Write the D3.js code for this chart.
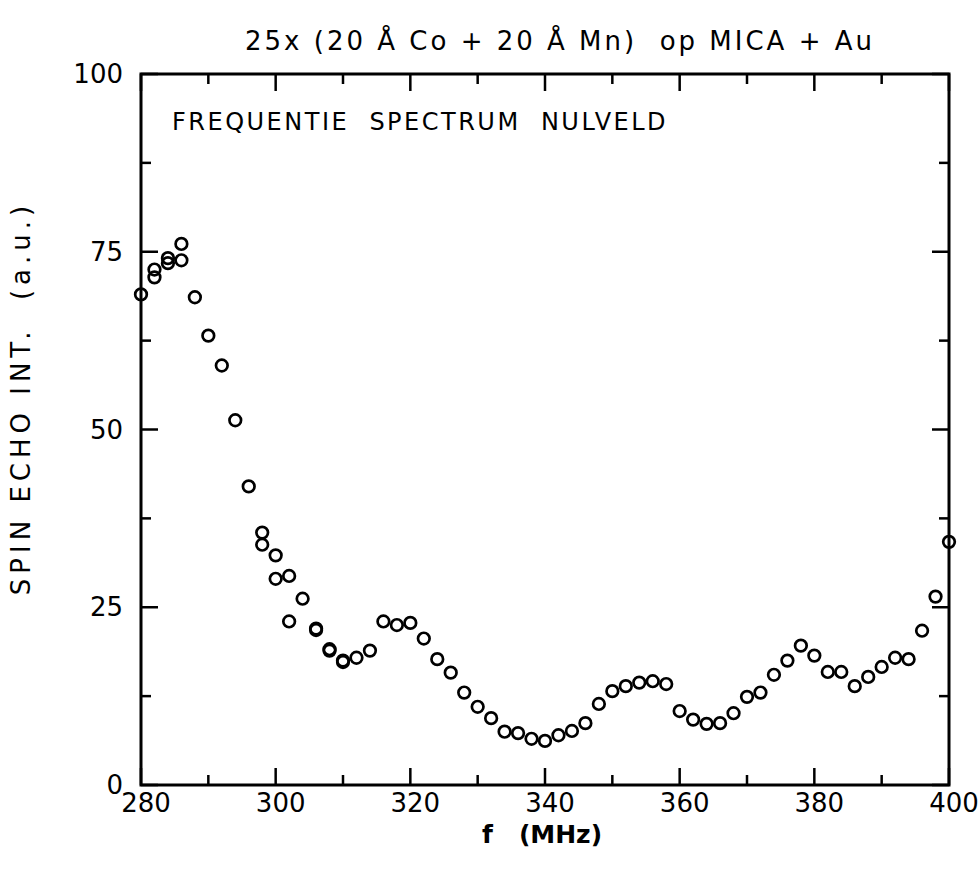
<!DOCTYPE html>
<html><head><meta charset="utf-8">
<script src="https://cdn.jsdelivr.net/npm/d3@7"></script>
<style>body{margin:0;background:#fff}svg{display:block}text{font-family:"DejaVu Sans",sans-serif;fill:#000}</style>
</head><body><svg id="c" width="979" height="871"></svg>
<script>
const freq = [280,282,282,284,284,286,286,288,290,292,294,296,298,298,300,300,302,302,304,306,306,308,308,310,310,312,314,316,318,320,322,324,326,328,330,332,334,336,338,340,342,344,346,348,350,352,354,356,358,360,362,364,366,368,370,372,374,376,378,380,382,384,386,388,390,392,394,396,398,400];
const intensity = [69.0,72.5,71.4,74.1,73.4,76.1,73.8,68.6,63.2,59.0,51.3,42.0,35.5,33.8,32.3,29.0,29.4,23.0,26.2,22.0,21.8,18.9,19.1,17.5,17.3,17.9,18.9,23.0,22.5,22.8,20.6,17.7,15.8,13.0,11.0,9.4,7.5,7.3,6.5,6.2,7.0,7.6,8.7,11.4,13.2,13.9,14.4,14.6,14.2,10.4,9.2,8.6,8.7,10.1,12.4,13.0,15.5,17.5,19.6,18.2,15.9,15.9,13.9,15.2,16.6,17.9,17.7,21.7,26.5,34.2];
const xTicks = [280,300,320,340,360,380,400];
const xMinor = [290,310,330,350,370,390];
const yTicks = [0,25,50,75,100];
const yMinor = [12.5,37.5,62.5,87.5];
const title = "25x (20 Å Co + 20 Å Mn)  op MICA + Au";
const note = "FREQUENTIE  SPECTRUM  NULVELD";
const xLabel = "f   (MHz)";
const yLabel = "SPIN ECHO INT.  (a.u.)";

const svg = d3.select("#c");
const L = 141, R = 949, T = 74, B = 785;
const x = d3.scaleLinear().domain([280,400]).range([L,R]);
const y = d3.scaleLinear().domain([0,100]).range([B,T]);

const g = svg.append("g");
g.append("rect").attr("x",L).attr("y",T).attr("width",R-L).attr("height",B-T)
 .attr("fill","none").attr("stroke","#000").attr("stroke-width",3);

const maj = 17, mn = 10;
function tick(x1,y1,x2,y2){g.append("line").attr("x1",x1).attr("y1",y1).attr("x2",x2).attr("y2",y2).attr("stroke","#000").attr("stroke-width",2.5);}
xTicks.forEach(v=>{ tick(x(v),B,x(v),B-maj); tick(x(v),T,x(v),T+maj); });
xMinor.forEach(v=>{ tick(x(v),B,x(v),B-mn); tick(x(v),T,x(v),T+mn); });
yTicks.forEach(v=>{ tick(L,y(v),L+maj,y(v)); tick(R,y(v),R-maj,y(v)); });
yMinor.forEach(v=>{ tick(L,y(v),L+mn,y(v)); tick(R,y(v),R-mn,y(v)); });

// tick labels
g.selectAll(".xl").data(xTicks).enter().append("text")
 .attr("x",d=>x(d)+5).attr("y",B+27).attr("text-anchor","middle")
 .attr("font-size",26).text(d=>d);
g.selectAll(".yl").data(yTicks).enter().append("text")
 .attr("x",L-18).attr("y",d=>y(d)+9).attr("text-anchor","end")
 .attr("font-size",26).text(d=>d);

// titles
svg.append("text").attr("x",560).attr("y",50).attr("text-anchor","middle")
 .attr("font-size",26).attr("letter-spacing",3).attr("style","white-space:pre").text(title);
svg.append("text").attr("x",172).attr("y",130)
 .attr("font-size",24).attr("letter-spacing",2.5).attr("style","white-space:pre").text(note);
svg.append("text").attr("x",542).attr("y",843).attr("text-anchor","middle")
 .attr("font-size",25).attr("font-weight","bold").attr("style","white-space:pre").text(xLabel);
svg.append("text").attr("transform","translate(30,398) rotate(-90)")
 .attr("text-anchor","middle").attr("font-size",26).attr("letter-spacing",5).attr("style","white-space:pre").text(yLabel);

// points
const pts = freq.map((f,i)=>({f, v:intensity[i]}));
g.selectAll(".p").data(pts).enter().append("circle")
 .attr("cx",d=>x(d.f)).attr("cy",d=>y(d.v)).attr("r",5.8)
 .attr("fill","none").attr("stroke","#000").attr("stroke-width",2.7);
</script></body></html>
